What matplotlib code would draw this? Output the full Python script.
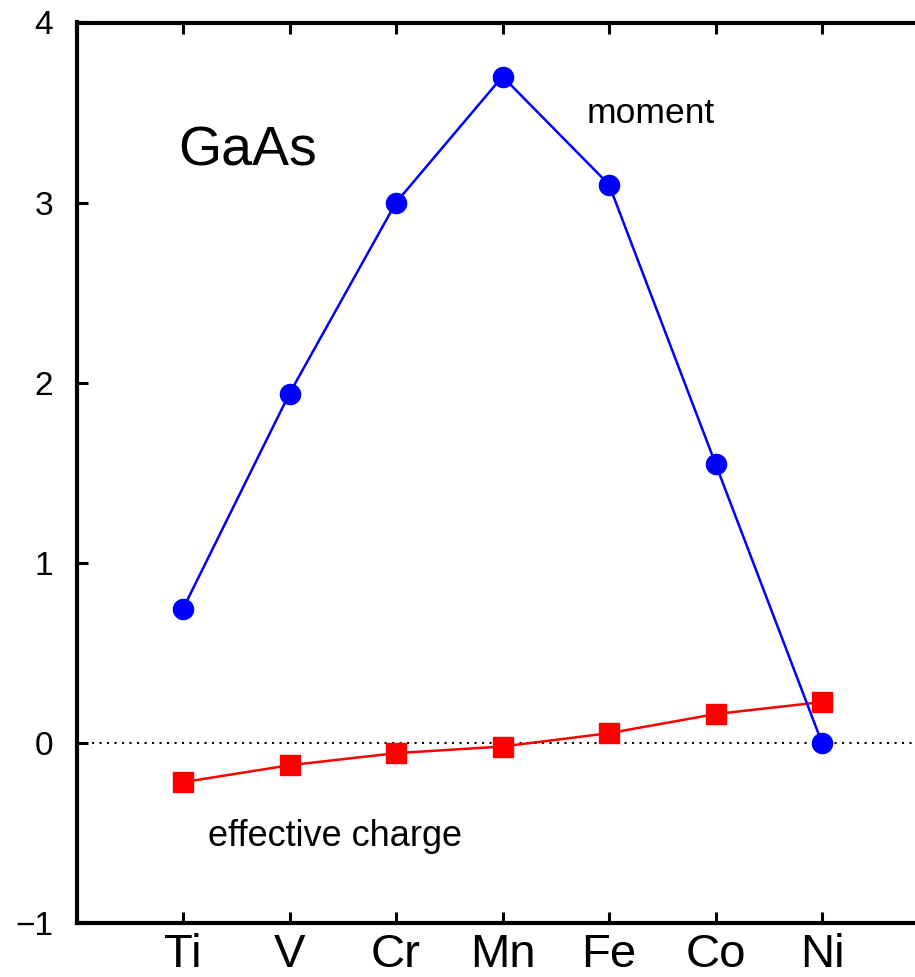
import matplotlib
matplotlib.use("Agg")
import matplotlib.pyplot as plt

plt.rcParams['font.family'] = ['Liberation Sans', 'DejaVu Sans']

elements = ["Ti", "V", "Cr", "Mn", "Fe", "Co", "Ni"]
positions = [1, 2, 3, 4, 5, 6, 7]
moment = [0.745, 1.94, 3.0, 3.70, 3.10, 1.55, 0.0]
eff_charge = [-0.218, -0.124, -0.057, -0.02, 0.054, 0.16, 0.227]
yticks = [-1, 0, 1, 2, 3, 4]

fig = plt.figure(figsize=(9.15, 9.77), dpi=100)
ax = fig.add_axes([76.5 / 915, 1 - 923 / 977, 8 * 106.5 / 915, (923 - 22.5) / 977])
ax.set_xlim(0, 8)
ax.set_ylim(-1, 4)

ax.axhline(0, color='black', lw=1.5, ls=(0, (1, 2.6)), zorder=1)
ax.plot(positions, moment, color='#0000ff', lw=1.8, marker='o', ms=14.5,
        zorder=3, clip_on=False)
ax.plot(positions, eff_charge, color='#ff0000', lw=1.8, marker='s', ms=14.5,
        zorder=2, clip_on=False)

ax.set_xticks(positions)
ax.set_xticklabels(elements)
ax.set_yticks(yticks)
ax.set_yticklabels(['\u22121', '0', '1', '2', '3', '4'])

ax.tick_params(axis='x', which='both', direction='in', top=True, bottom=True,
               length=8, width=2.2, labelsize=34, pad=7)
ax.tick_params(axis='y', which='both', direction='in', left=True, right=False,
               length=8, width=2.2, labelsize=24, pad=17)
for s in ax.spines.values():
    s.set_linewidth(3)

ax.text(0.953, 3.207, "GaAs", fontsize=40, ha='left', va='baseline')
ax.text(4.793, 3.44, "moment", fontsize=25.5, ha='left', va='baseline')
ax.text(1.235, -0.572, "effective charge", fontsize=26, ha='left', va='baseline')

fig.savefig("out.png", dpi=100)
